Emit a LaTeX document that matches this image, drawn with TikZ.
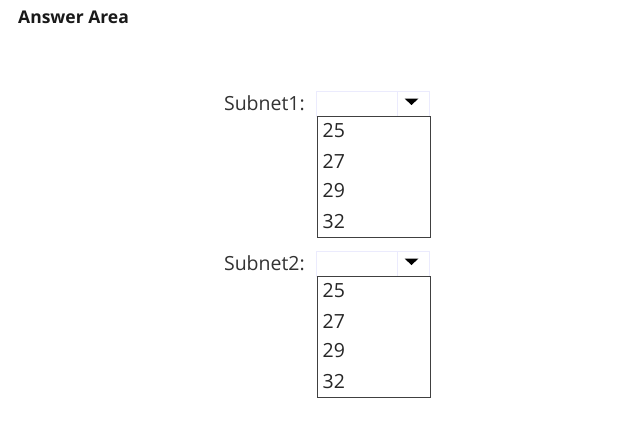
\documentclass[tikz,border=0pt]{standalone}
\usepackage{fontspec}
\setmainfont{Open Sans}
\begin{document}
\begin{tikzpicture}[x=1pt,y=-1pt,
  hdr/.style={draw=black!12!blue!8!white, line width=1pt},
  lst/.style={draw=black!75, line width=1pt},
  lbl/.style={anchor=east, inner sep=0pt, font=\fontsize{19.5}{22}\selectfont, text=black!80},
  item/.style={anchor=west, inner sep=0pt, font=\fontsize{19.5}{23}\selectfont, text=black!85},
  tri/.style={fill=black, draw=none}]
\useasboundingbox (0,0) rectangle (623,440);
\fill[white] (0,0) rectangle (623,440);
\node[anchor=west, inner sep=0pt, font=\bfseries\fontsize{17.5}{20}\selectfont, text=black!90] (title) at (18,17) {Answer Area};
\foreach \n/\y in {1/0, 2/160}{
  \begin{scope}[yshift=-\y pt]
  \node[lbl] (lab\n) at (305,103) {Subnet\n:};
  \draw[hdr] (316,91) rectangle (429,116);
  \draw[hdr] (397,91) -- (397,116);
  \fill[tri] (404.5,98.5) -- (418.5,98.5) -- (411.5,105) -- cycle;
  \draw[lst] (317,116) rectangle (430,237);
  \node[item] (a\n) at (322.5,131) {25};
  \node[item] (b\n) at (322.5,161) {27};
  \node[item] (c\n) at (322.5,191) {29};
  \node[item] (d\n) at (322.5,222) {32};
  \end{scope}
}
\end{tikzpicture}
\end{document}
